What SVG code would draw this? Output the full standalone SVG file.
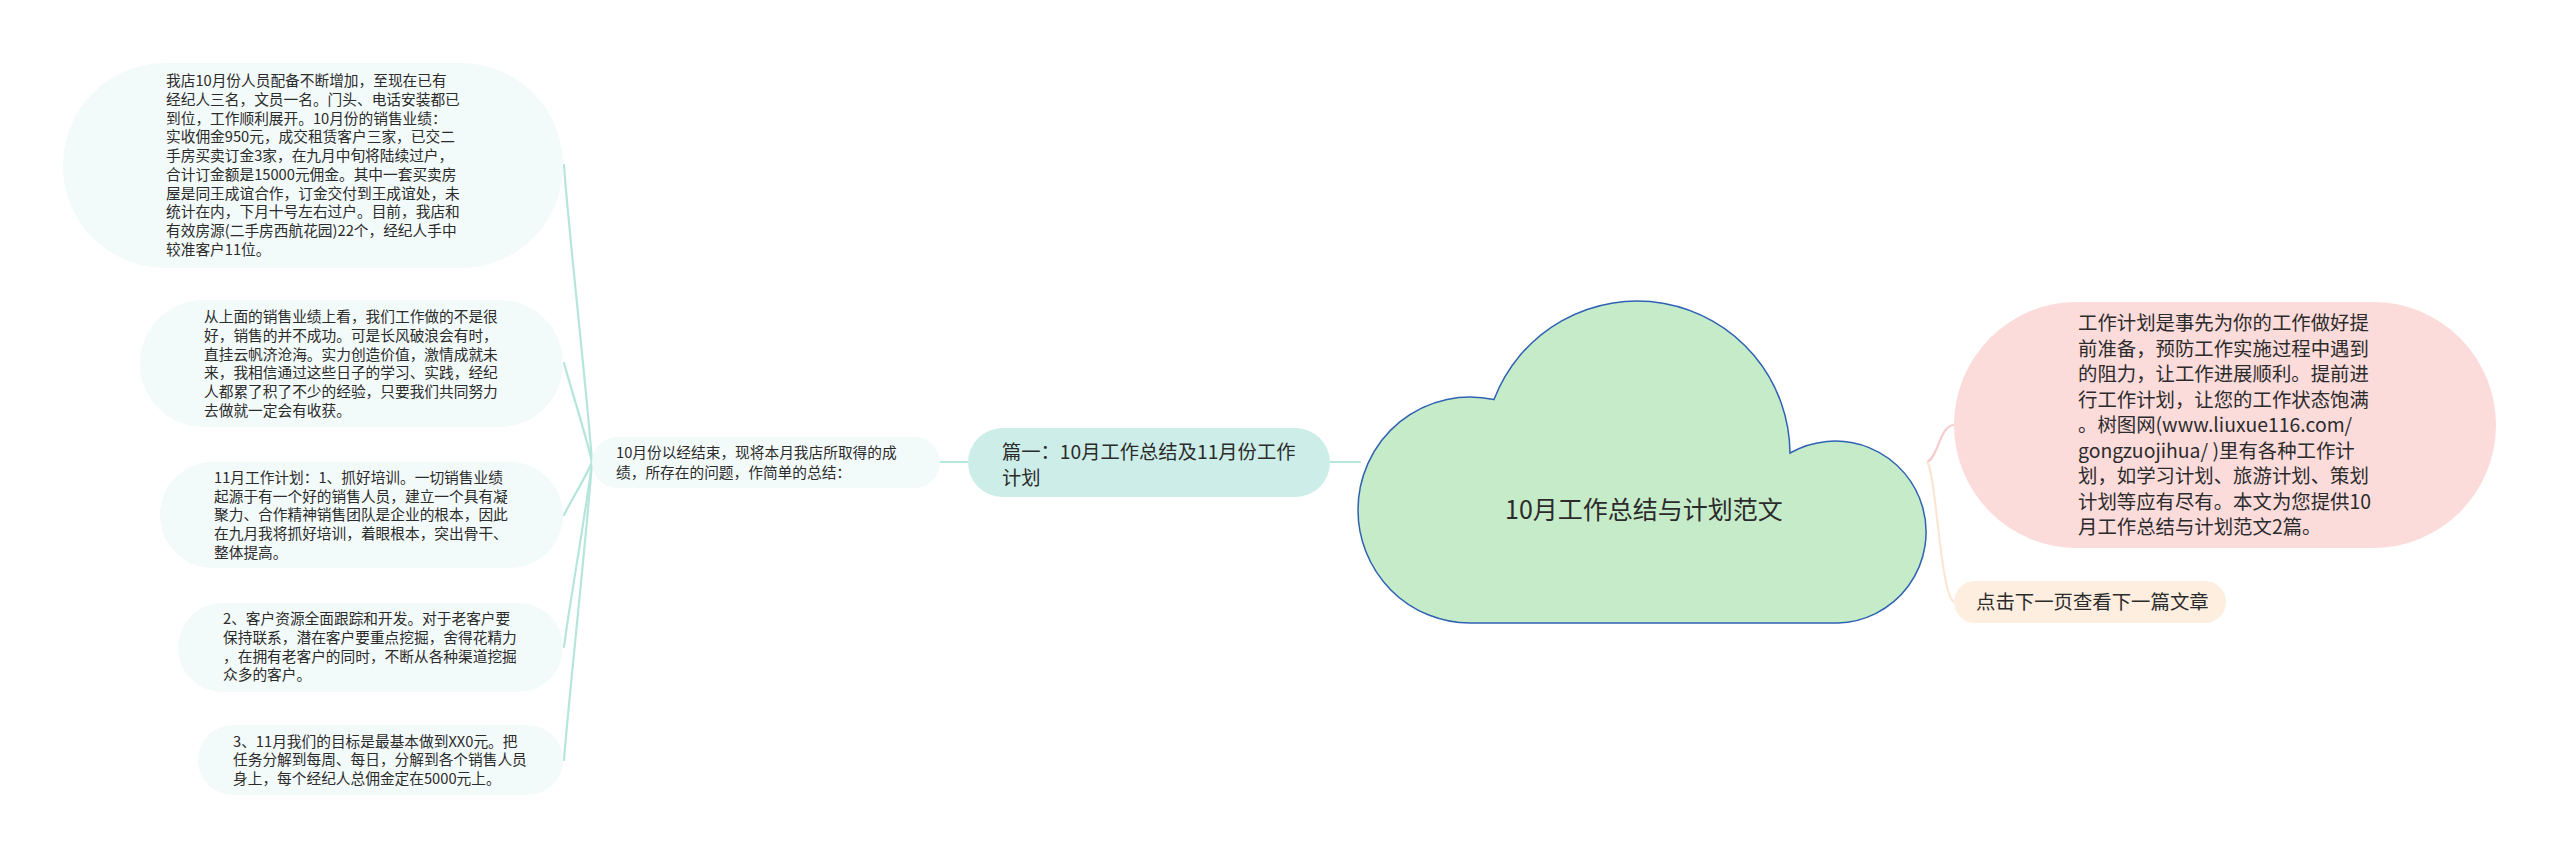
<svg xmlns="http://www.w3.org/2000/svg" width="2560" height="859" viewBox="0 0 2560 859">
<style>
  .t { font-family: "Noto Sans CJK SC", "Liberation Sans", sans-serif; fill: #2b2b2b; }
  .s { font-size: 14.7px; }
  .m { font-size: 19.4px; }
  .leaf { fill: #f3fafa; }
  .teal { fill: none; stroke: #b6e5dc; stroke-width: 2.2; stroke-linecap: round; }
</style>
<rect width="2560" height="859" fill="#ffffff"/>

<g id="connectors">
  <path class="teal" d="M940,462 L968,462"/>
  <path class="teal" d="M1330,462 L1360,462" stroke-width="3"/>
  <path class="teal" d="M592,462 C588,402 567,215 564,165"/>
  <path class="teal" d="M592,462 C588,442 567,375 564,363"/>
  <path class="teal" d="M592,462 C588,473 567,508 564,515"/>
  <path class="teal" d="M592,462 C588,499 567,620 564,647"/>
  <path class="teal" d="M592,462 C588,522 567,716 564,760"/>
  <path d="M1927,462 C1938,458 1940,425 1954,425" fill="none" stroke="#f6cccc" stroke-width="2.2"/>
  <path d="M1927,462 C1936,470 1940,594 1954,602" fill="none" stroke="#fbe6d4" stroke-width="2.2"/>
</g>

<g id="root">
  <path d="M1494,399.6 A153,153 0 0 1 1790,453 A91,91 0 1 1 1838,623 L1470,623 A112,113 0 0 1 1358,510 A112,113 0 0 1 1494,399.6 Z" fill="#c6ebc9" stroke="#2f62b2" stroke-width="1.5"/>
  <text class="t" x="1644" y="519" font-size="25" text-anchor="middle">10月工作总结与计划范文</text>
</g>

<g id="branch1">
  <rect x="968" y="428" width="362" height="69" rx="34.5" fill="#cdeee8"/>
  <text class="t" font-size="19.3" x="1002" y="458.5">篇一：10月工作总结及11月份工作</text>
  <text class="t" font-size="19.3" x="1002" y="485">计划</text>
</g>

<g id="summary">
  <rect class="leaf" x="592" y="437" width="348" height="51" rx="25.5"/>
  <text class="t s" x="616" y="457.5">10月份以经结束，现将本月我店所取得的成</text>
  <text class="t s" x="616" y="478">绩，所存在的问题，作简单的总结：</text>
</g>

<g id="node1">
  <rect class="leaf" x="63" y="63" width="500" height="205" rx="102"/>
  <text class="t s" x="166">
    <tspan x="166" y="86.3">我店10月份人员配备不断增加，至现在已有</tspan>
    <tspan x="166" y="105">经纪人三名，文员一名。门头、电话安装都已</tspan>
    <tspan x="166" y="123.7">到位，工作顺利展开。10月份的销售业绩：</tspan>
    <tspan x="166" y="142.4">实收佣金950元，成交租赁客户三家，已交二</tspan>
    <tspan x="166" y="161.1">手房买卖订金3家，在九月中旬将陆续过户，</tspan>
    <tspan x="166" y="179.8">合计订金额是15000元佣金。其中一套买卖房</tspan>
    <tspan x="166" y="198.5">屋是同王成谊合作，订金交付到王成谊处，未</tspan>
    <tspan x="166" y="217.2">统计在内，下月十号左右过户。目前，我店和</tspan>
    <tspan x="166" y="235.9">有效房源(二手房西航花园)22个，经纪人手中</tspan>
    <tspan x="166" y="254.6">较准客户11位。</tspan>
  </text>
</g>

<g id="node2">
  <rect class="leaf" x="140" y="300" width="423" height="127" rx="63.5"/>
  <text class="t s">
    <tspan x="204" y="322.3">从上面的销售业绩上看，我们工作做的不是很</tspan>
    <tspan x="204" y="341">好，销售的并不成功。可是长风破浪会有时，</tspan>
    <tspan x="204" y="359.7">直挂云帆济沧海。实力创造价值，激情成就未</tspan>
    <tspan x="204" y="378.4">来，我相信通过这些日子的学习、实践，经纪</tspan>
    <tspan x="204" y="397.1">人都累了积了不少的经验，只要我们共同努力</tspan>
    <tspan x="204" y="415.8">去做就一定会有收获。</tspan>
  </text>
</g>

<g id="node3">
  <rect class="leaf" x="160" y="462" width="403" height="106" rx="53"/>
  <text class="t s">
    <tspan x="214" y="482.9">11月工作计划：1、抓好培训。一切销售业绩</tspan>
    <tspan x="214" y="501.6">起源于有一个好的销售人员，建立一个具有凝</tspan>
    <tspan x="214" y="520.3">聚力、合作精神销售团队是企业的根本，因此</tspan>
    <tspan x="214" y="539">在九月我将抓好培训，着眼根本，突出骨干、</tspan>
    <tspan x="214" y="557.7">整体提高。</tspan>
  </text>
</g>

<g id="node4">
  <rect class="leaf" x="178" y="603" width="385" height="89" rx="44.5"/>
  <text class="t s">
    <tspan x="223" y="624.3">2、客户资源全面跟踪和开发。对于老客户要</tspan>
    <tspan x="223" y="643">保持联系，潜在客户要重点挖掘，舍得花精力</tspan>
    <tspan x="223" y="661.7">，在拥有老客户的同时，不断从各种渠道挖掘</tspan>
    <tspan x="223" y="680.4">众多的客户。</tspan>
  </text>
</g>

<g id="node5">
  <rect class="leaf" x="198" y="725" width="365" height="70" rx="35"/>
  <text class="t s">
    <tspan x="233" y="746.6">3、11月我们的目标是最基本做到XX0元。把</tspan>
    <tspan x="233" y="765.3">任务分解到每周、每日，分解到各个销售人员</tspan>
    <tspan x="233" y="784">身上，每个经纪人总佣金定在5000元上。</tspan>
  </text>
</g>

<g id="intro">
  <rect x="1954" y="302" width="542" height="246" rx="123" fill="#fcdbdb"/>
  <text class="t m">
    <tspan x="2078" y="330">工作计划是事先为你的工作做好提</tspan>
    <tspan x="2078" y="355.5">前准备，预防工作实施过程中遇到</tspan>
    <tspan x="2078" y="381">的阻力，让工作进展顺利。提前进</tspan>
    <tspan x="2078" y="406.5">行工作计划，让您的工作状态饱满</tspan>
    <tspan x="2078" y="432">。树图网(www.liuxue116.com/</tspan>
    <tspan x="2078" y="457.5">gongzuojihua/ )里有各种工作计</tspan>
    <tspan x="2078" y="483">划，如学习计划、旅游计划、策划</tspan>
    <tspan x="2078" y="508.5">计划等应有尽有。本文为您提供10</tspan>
    <tspan x="2078" y="534">月工作总结与计划范文2篇。</tspan>
  </text>
</g>

<g id="next">
  <rect x="1954" y="581" width="272" height="42" rx="21" fill="#fdeedf"/>
  <text class="t m" x="1976" y="609">点击下一页查看下一篇文章</text>
</g>
</svg>
